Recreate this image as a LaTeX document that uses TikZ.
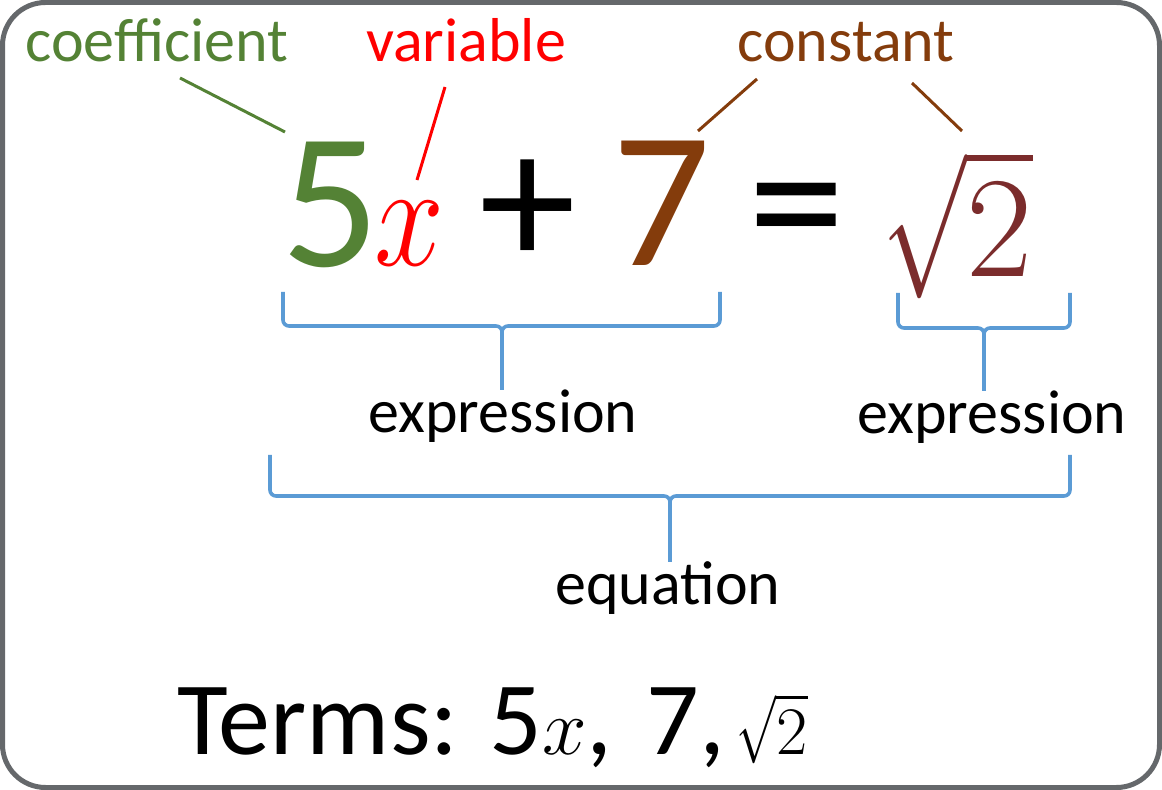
\RequirePackage{fix-cm}
\documentclass[tikz,border=0pt]{standalone}
\usepackage{fontspec}
\setmainfont{Carlito}

\definecolor{coefgreen}{HTML}{548235}
\definecolor{constbrown}{HTML}{843C0C}
\definecolor{rootred}{HTML}{7B2C2C}
\definecolor{bracecol}{HTML}{5B9BD5}
\definecolor{framegray}{HTML}{65686B}

\tikzset{
    tagtext/.style={inner sep=0pt, anchor=base, font=\fontsize{31}{31}\selectfont},
    bigterm/.style={inner sep=0pt, anchor=base, font=\fontsize{97}{97}\selectfont},
    leader/.style={line width=1.5pt},
    bracepath/.style={bracecol, line width=1.8pt}
}

\begin{document}
\begin{tikzpicture}[x=0.5pt, y=-0.5pt]
    \useasboundingbox (0,0) rectangle (1162,790);

        % Draw the frame
        \draw[framegray, line width=2.5pt, rounded corners=21.5pt] (2.5,2.5) rectangle (1159.5,787.5);

        % Names of the parts
        \node[tagtext, coefgreen] (coef) at (157,62) {coefficient};
        \node[tagtext, red] (var) at (466,62) {variable};
        \node[tagtext, constbrown] (const) at (846,62) {constant};

        % The equation itself
        \node[bigterm, coefgreen] (five) at (331,267) {5};
        \node[bigterm, red, font=\fontsize{74}{74}\selectfont] (xvar) at (409,266) {\scalebox{0.85}[1]{$x$}};
        \node[bigterm] (plus) at (528,267) {+};
        \node[bigterm, constbrown] (seven) at (662,266) {7};
        \node[bigterm] (equals) at (797,267) {=};
        \node[bigterm, rootred, font=\fontsize{72}{72}\selectfont] (root) at (958,277)
            {\scalebox{0.7}[1]{$\sqrt{\scalebox{1.43}[1]{$2$}}$}};

        % Leader lines from the names
        \coordinate (coefA) at (180,78);  \coordinate (coefB) at (285,132);
        \coordinate (varA) at (445,87);   \coordinate (varB) at (417,180);
        \coordinate (constA) at (757,79); \coordinate (constB) at (698,131);
        \coordinate (constC) at (912,83); \coordinate (constD) at (962,131);
        \draw[leader, coefgreen] (coefA) -- (coefB);
        \draw[leader, red] (varA) -- (varB);
        \draw[leader, constbrown] (constA) -- (constB);
        \draw[leader, constbrown] (constC) -- (constD);

        % Labels under the braces
        \node[tagtext] (exprL) at (503,433) {expression};
        \node[tagtext] (exprR) at (992,434) {expression};
        \node[tagtext] (eqn) at (668,605) {equation};

        % Draw the braces
        \foreach \l/\r/\t/\h/\m/\lab in {283/720/292/326/502/exprL, 898/1070/293/328/984/exprR, 270/1070/455/496/670/eqn} {
            \draw[bracepath] (\l,\t) -- (\l,\h-6) to[out=-90,in=180] (\l+6,\h) -- (\m-6,\h)
                to[out=0,in=90] (\m,\h+6) to[out=90,in=180] (\m+6,\h) -- (\r-6,\h) to[out=0,in=-90] (\r,\h-6) -- (\r,\t);
            \coordinate (tip) at (\m,\h+6);
            \draw[bracepath] (tip) -- (tip |- \lab.north);
        }

        % The terms
        \node[inner sep=0pt, anchor=base west, font=\fontsize{52}{52}\selectfont] (terms) at (177,754)
            {Terms: 5{\fontsize{40}{40}\selectfont$x$}, \hspace{5pt}7, \hspace{-6pt}{\fontsize{34}{34}\selectfont\scalebox{0.7}[1]{$\sqrt{\scalebox{1.43}[1]{$2$}}$}}};

\end{tikzpicture}
\end{document}
